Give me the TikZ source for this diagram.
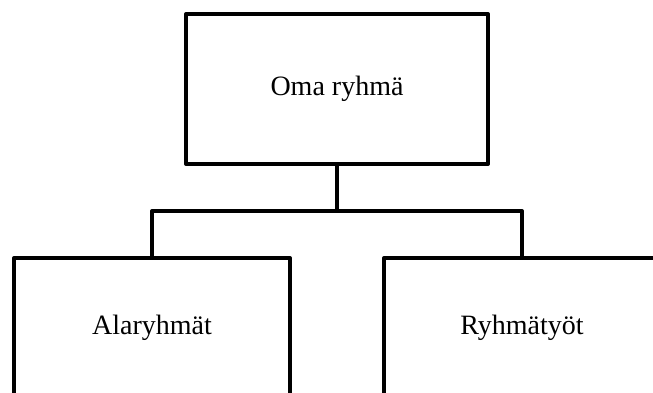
\documentclass[tikz,border=0pt]{standalone}
\usepackage{fontspec}
\setmainfont{Liberation Serif}
\begin{document}
\begin{tikzpicture}[x=1pt,y=-1pt,
  orgbox/.style={draw=black, line width=4pt, line join=round, rectangle,
    inner sep=0pt, font=\fontsize{28}{34}\selectfont},
  link/.style={draw=black, line width=4pt, line join=round}]
  \useasboundingbox (0,0) rectangle (653,392);
  \clip (0,0) rectangle (653,392);
  % boxes
  \node[orgbox, minimum width=302pt, minimum height=150pt] (top) at (337,89) {Oma ryhmä};
  \node[orgbox, minimum width=276pt, minimum height=140pt] (left) at (152,328) {Alaryhmät};
  \node[orgbox, minimum width=276pt, minimum height=140pt] (right) at (522,328) {Ryhmätyöt};
  % connectors
  \coordinate (j) at (337,211);
  \draw[link] (top.south) -- (j);
  \draw[link] (left.north) |- (j) -| (right.north);
\end{tikzpicture}
\end{document}
